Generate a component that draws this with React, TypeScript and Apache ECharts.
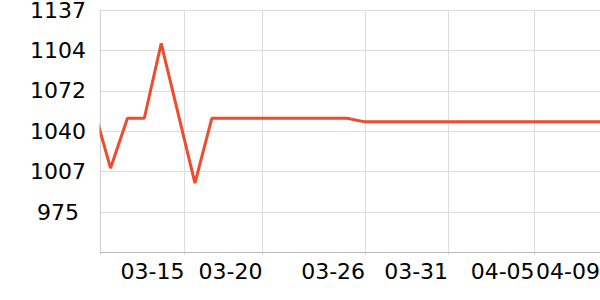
import { useEffect, useRef } from "react";
import * as echarts from "echarts";

const dates = [
  "2024-03-10", "2024-03-11", "2024-03-12", "2024-03-13", "2024-03-14", "2024-03-15",
  "2024-03-16", "2024-03-17", "2024-03-18", "2024-03-19", "2024-03-20", "2024-03-21",
  "2024-03-22", "2024-03-23", "2024-03-24", "2024-03-25", "2024-03-26", "2024-03-27",
  "2024-03-28", "2024-03-29", "2024-03-30", "2024-03-31", "2024-04-01", "2024-04-02",
  "2024-04-03", "2024-04-04", "2024-04-05", "2024-04-06", "2024-04-07", "2024-04-08",
  "2024-04-09",
];

const values = [
  1058, 1010, 1050, 1050, 1110, 1054,
  998, 1050, 1050, 1050, 1050, 1050,
  1050, 1050, 1050, 1050, 1047.3, 1047.3,
  1047.3, 1047.3, 1047.3, 1047.3, 1047.3, 1047.3,
  1047.3, 1047.3, 1047.3, 1047.3, 1047.3, 1047.3,
  1047.3,
];

const xMin = "2024-03-10 09:00";
const xMax = "2024-04-09 00:00";
const xTickTimes = [
  "2024-03-15 09:00",
  "2024-03-20 00:00",
  "2024-03-26 02:00",
  "2024-03-31 00:00",
  "2024-04-05 03:00",
  "2024-04-09 00:00",
];

const yMin = 942.4;
const yMax = 1136.8;
const yTicks = [974.8, 1007.2, 1039.6, 1072, 1104.4, 1136.8];

function toTs(s: string): number {
  const [d, t = "00:00"] = s.split(" ");
  const [y, m, dd] = d.split("-").map(Number);
  const [h, mi] = t.split(":").map(Number);
  return new Date(y, m - 1, dd, h, mi).getTime();
}

function pad(n: number) {
  return n < 10 ? "0" + n : String(n);
}

export default function App() {
  const ref = useRef<HTMLDivElement>(null);
  useEffect(() => {
    if (!ref.current) return;
    const chart = echarts.init(ref.current, null, { renderer: "svg" });
    const font = "DejaVu Sans";
    chart.setOption({
      animation: false,
      backgroundColor: "#ffffff",
      grid: {
        left: 100,
        right: 0,
        top: 10,
        bottom: 47.5,
        containLabel: false,
        outerBoundsMode: "none",
      },
      xAxis: {
        type: "value",
        min: toTs(xMin),
        max: toTs(xMax),
        axisLine: { show: true, lineStyle: { color: "#b8b8b8", width: 1 } },
        axisTick: {
          show: true,
          length: 2,
          customValues: [xMin, ...xTickTimes].map(toTs),
          lineStyle: { color: "#cccccc" },
        },
        splitLine: { show: true, lineStyle: { color: "#dddddd", width: 1 } },
        axisLabel: {
          customValues: xTickTimes.map(toTs),
          align: "right",
          margin: 8,
          fontFamily: font,
          fontSize: 22,
          color: "#000000",
          formatter: (v: number) => {
            const d = new Date(v);
            return pad(d.getMonth() + 1) + "-" + pad(d.getDate());
          },
        },
      },
      yAxis: {
        type: "value",
        min: yMin,
        max: yMax,
        axisLine: { show: true, lineStyle: { color: "#d0d0d0", width: 1 } },
        axisTick: {
          show: true,
          length: 2,
          customValues: yTicks,
          lineStyle: { color: "#dddddd" },
        },
        splitLine: { show: true, lineStyle: { color: "#dddddd", width: 1 } },
        axisLabel: {
          customValues: yTicks,
          align: "center",
          margin: 42,
          fontFamily: font,
          fontSize: 22,
          lineHeight: 18,
          color: "#000000",
          formatter: (v: number) => String(Math.round(v)),
        },
      },
      graphic: [
        {
          type: "rect",
          z: 5,
          shape: { x: 88, y: 0, width: 11.5, height: 252 },
          style: { fill: "#ffffff" },
          silent: true,
        },
      ],
      series: [
        {
          type: "line",
          data: dates.map((d, i) => [toTs(d), values[i]]),
          showSymbol: false,
          symbol: "none",
          clip: true,
          lineStyle: { color: "#f04b2d", width: 3 },
          itemStyle: { color: "#f04b2d" },
        },
      ],
    });
    return () => chart.dispose();
  }, []);
  return (
    <div
      ref={ref}
      style={{ position: "absolute", left: 0, top: 0, width: 600, height: 300 }}
    />
  );
}
